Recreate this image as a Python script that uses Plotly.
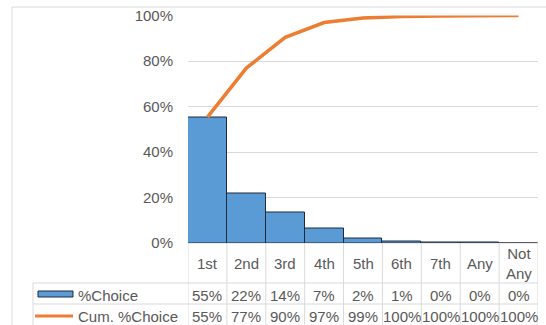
import plotly.graph_objects as go

# ---------------- data ----------------
categories = ["1st", "2nd", "3rd", "4th", "5th", "6th", "7th", "Any", "Not Any"]
category_labels = ["1st", "2nd", "3rd", "4th", "5th", "6th", "7th", "Any", "Not<br>Any"]
pct_choice = [55.3, 21.6, 13.5, 6.5, 2.0, 0.7, 0.2, 0.2, 0.0]
cum_pct_choice = [55.3, 76.9, 90.4, 96.9, 98.9, 99.6, 99.8, 100.0, 100.0]
series_names = ["%Choice", "Cum. %Choice"]
y_tick_values = [0, 20, 40, 60, 80, 100]
y_tick_labels = ["0%", "20%", "40%", "60%", "80%", "100%"]

# ---------------- styling ----------------
W, H = 546, 325
BLUE = "#5B9BD5"
BAR_EDGE = "#1E2B3C"
ORANGE = "#ED7D31"
GRID = "#D9D9D9"
TEXT = "#595959"
FONT = "Liberation Sans"
FS = 15


def px(x):
    return x / W


def py(y):
    return 1 - y / H


PLOT_L, PLOT_R = 188, 538
PLOT_T, PLOT_B = 15.5, 243
ROW1_T, ROW2_T, ROW2_B = 283, 304, 326
LEG_L = 33

fig = go.Figure()
fig.add_trace(go.Bar(
    x=categories, y=pct_choice, name=series_names[0],
    marker=dict(color=BLUE, line=dict(color=BAR_EDGE, width=1)),
    width=1.0, showlegend=False,
))
fig.add_trace(go.Scatter(
    x=categories, y=cum_pct_choice, name=series_names[1], mode="lines",
    line=dict(color=ORANGE, width=3.5), showlegend=False,
))

shapes = []
# outer chart border (left & top)
shapes.append(dict(type="line", xref="paper", yref="paper", x0=px(12), x1=px(12),
                   y0=py(7), y1=0, line=dict(color=GRID, width=1)))
shapes.append(dict(type="line", xref="paper", yref="paper", x0=px(12), x1=1,
                   y0=py(7), y1=py(7), line=dict(color=GRID, width=1)))
# table vertical lines at category boundaries
n = len(categories)
for i in range(n + 1):
    shapes.append(dict(type="line", xref="x", yref="paper", x0=i - 0.5, x1=i - 0.5,
                       y0=py(PLOT_B), y1=py(ROW2_B), line=dict(color=GRID, width=1), layer="below"))
# legend column left border
shapes.append(dict(type="line", xref="paper", yref="paper", x0=px(LEG_L), x1=px(LEG_L),
                   y0=py(ROW1_T), y1=py(ROW2_B), line=dict(color=GRID, width=1)))
# horizontal table lines
for yy, xl in [(PLOT_B, PLOT_L), (ROW1_T, LEG_L), (ROW2_T, LEG_L)]:
    shapes.append(dict(type="line", xref="paper", yref="paper", x0=px(xl), x1=px(PLOT_R),
                       y0=py(yy), y1=py(yy), line=dict(color=GRID, width=1), layer="below"))
# legend keys
shapes.append(dict(type="rect", xref="paper", yref="paper", x0=px(38), x1=px(73),
                   y0=py(291), y1=py(297), fillcolor=BLUE, line=dict(color=BAR_EDGE, width=1)))
shapes.append(dict(type="line", xref="paper", yref="paper", x0=px(35), x1=px(73),
                   y0=py(316), y1=py(316), line=dict(color=ORANGE, width=3)))

annotations = []
font = dict(family=FONT, size=FS, color=TEXT)
# header row (category labels)
for c, lab in zip(categories, category_labels):
    annotations.append(dict(x=c, xref="x", y=py(263), yref="paper", text=lab,
                            showarrow=False, font=font, xanchor="center", yanchor="middle"))


def fmt(v):
    return f"{int(v + 0.5)}%"


row_y = [py(295), py(316)]
for r, vals in enumerate([pct_choice, cum_pct_choice]):
    for c, v in zip(categories, vals):
        annotations.append(dict(x=c, xref="x", y=row_y[r], yref="paper", text=fmt(v),
                                showarrow=False, font=font, xanchor="center", yanchor="middle"))
    annotations.append(dict(x=px(76), xref="paper", y=row_y[r], yref="paper",
                            text=series_names[r], showarrow=False, font=font,
                            xanchor="left", yanchor="middle"))

fig.update_layout(
    width=W, height=H, margin=dict(l=0, r=0, t=0, b=0, pad=0, autoexpand=False),
    paper_bgcolor="white", plot_bgcolor="white",
    bargap=0, showlegend=False,
    font=dict(family=FONT, size=FS, color=TEXT),
    xaxis=dict(domain=[px(PLOT_L), px(PLOT_R)], range=[-0.5, n - 0.5],
               showticklabels=False, showgrid=False, zeroline=False, showline=False,
               automargin=False, fixedrange=True),
    yaxis=dict(domain=[py(PLOT_B), py(PLOT_T)], range=[0, 100],
               tickvals=y_tick_values, ticktext=y_tick_labels,
               showgrid=True, gridcolor=GRID, gridwidth=1, zeroline=False,
               showline=False, ticks="", ticklabelstandoff=14, automargin=False,
               tickfont=dict(family=FONT, size=FS, color=TEXT), fixedrange=True),
    shapes=shapes, annotations=annotations,
)

fig.write_html("out.html")
